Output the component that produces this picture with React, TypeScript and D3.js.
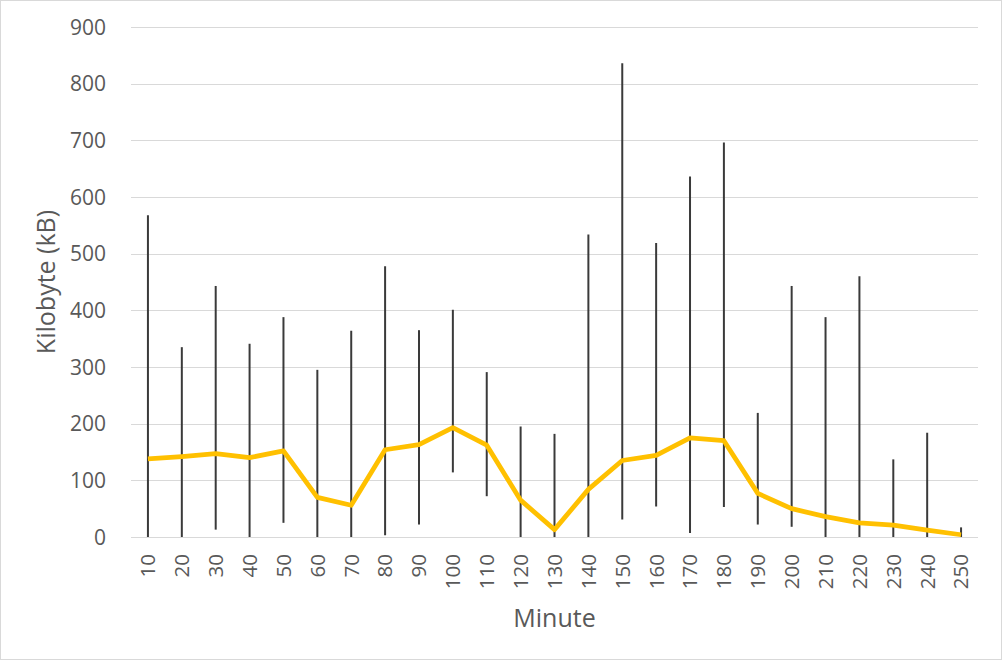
import { useRef, useEffect } from "react";
import * as d3 from "d3";

// Minute buckets, mean kB (line) and error-bar extents
const minutes = [10, 20, 30, 40, 50, 60, 70, 80, 90, 100, 110, 120, 130, 140, 150, 160, 170, 180, 190, 200, 210, 220, 230, 240, 250];
const meanKB = [138, 142, 147, 140, 152, 70, 56, 154, 163, 193, 162, 65, 13, 84, 135, 144, 175, 170, 77, 50, 36, 25, 21, 12, 4];
const errLow = [0, 0, 13, 0, 25, 0, 0, 3, 22, 114, 72, 0, 0, 0, 31, 54, 7, 53, 22, 18, 0, 0, 0, 0, 0];
const errHigh = [568, 335, 443, 341, 388, 295, 364, 478, 365, 401, 291, 195, 182, 534, 836, 519, 636, 696, 219, 443, 388, 460, 137, 184, 17];
const yTicks = [0, 100, 200, 300, 400, 500, 600, 700, 800, 900];

export default function App() {
  const svgRef = useRef<SVGSVGElement>(null);
  const W = 1002;
  const H = 660;

  useEffect(() => {
    if (!svgRef.current) return;
    const svg = d3.select(svgRef.current);
    svg.selectAll("*").remove();

    const m = { top: 27, right: 24, bottom: 123, left: 131 };
    const iW = W - m.left - m.right;
    const iH = H - m.top - m.bottom;
    const font = "'Open Sans', 'Noto Sans', sans-serif";
    const txt = "#595959";

    // Chart border
    svg.append("rect")
      .attr("x", 0.5).attr("y", 0.5).attr("width", W - 1).attr("height", H - 1)
      .attr("fill", "#fff").attr("stroke", "#d9d9d9");

    const x = d3.scaleBand<number>().domain(minutes).range([0, iW]);
    const y = d3.scaleLinear().domain([0, 900]).range([iH, 0]);
    const cx = (v: number) => (x(v) ?? 0) + x.bandwidth() / 2;

    const g = svg.append("g").attr("transform", `translate(${m.left},${m.top})`);

    // Gridlines
    g.append("g").selectAll("line").data(yTicks).join("line")
      .attr("x1", 0).attr("x2", iW)
      .attr("y1", d => Math.round(y(d)) + 0.5).attr("y2", d => Math.round(y(d)) + 0.5)
      .attr("stroke", "#d9d9d9").attr("stroke-width", 1);

    // Y tick labels
    g.append("g").selectAll("text").data(yTicks).join("text")
      .attr("x", -25).attr("y", d => y(d)).attr("dy", "0.36em")
      .attr("text-anchor", "end").attr("fill", txt)
      .attr("font-family", font).attr("font-size", "21px")
      .text(d => d);

    // X tick labels (rotated)
    g.append("g").selectAll("text").data(minutes).join("text")
      .attr("transform", d => `translate(${cx(d)},${iH + 17}) rotate(-90)`)
      .attr("dy", "0.36em").attr("text-anchor", "end").attr("fill", txt)
      .attr("font-family", font).attr("font-size", "20.5px")
      .text(d => d);

    // Error bars
    g.append("g").selectAll("line").data(minutes).join("line")
      .attr("x1", d => cx(d)).attr("x2", d => cx(d))
      .attr("y1", (_, i) => y(errLow[i])).attr("y2", (_, i) => y(errHigh[i]))
      .attr("stroke", "#3a3a3a").attr("stroke-width", 2);

    // Mean line
    const line = d3.line<number>()
      .x((_, i) => cx(minutes[i]))
      .y(d => y(d));
    g.append("path").datum(meanKB)
      .attr("fill", "none").attr("stroke", "#FFC000").attr("stroke-width", 4.75)
      .attr("stroke-linejoin", "round").attr("d", line);

    // Axis titles
    svg.append("text")
      .attr("x", m.left + iW / 2).attr("y", 627)
      .attr("text-anchor", "middle").attr("fill", txt)
      .attr("font-family", font).attr("font-size", "25px")
      .text("Minute");
    svg.append("text")
      .attr("transform", `translate(55,${m.top + iH / 2}) rotate(-90)`)
      .attr("text-anchor", "middle").attr("fill", txt)
      .attr("font-family", font).attr("font-size", "25px")
      .text("Kilobyte (kB)");
  }, []);

  return (
    <div style={{ position: "absolute", left: 0, top: 0 }}>
      <svg ref={svgRef} width={W} height={H} style={{ display: "block" }} />
    </div>
  );
}
